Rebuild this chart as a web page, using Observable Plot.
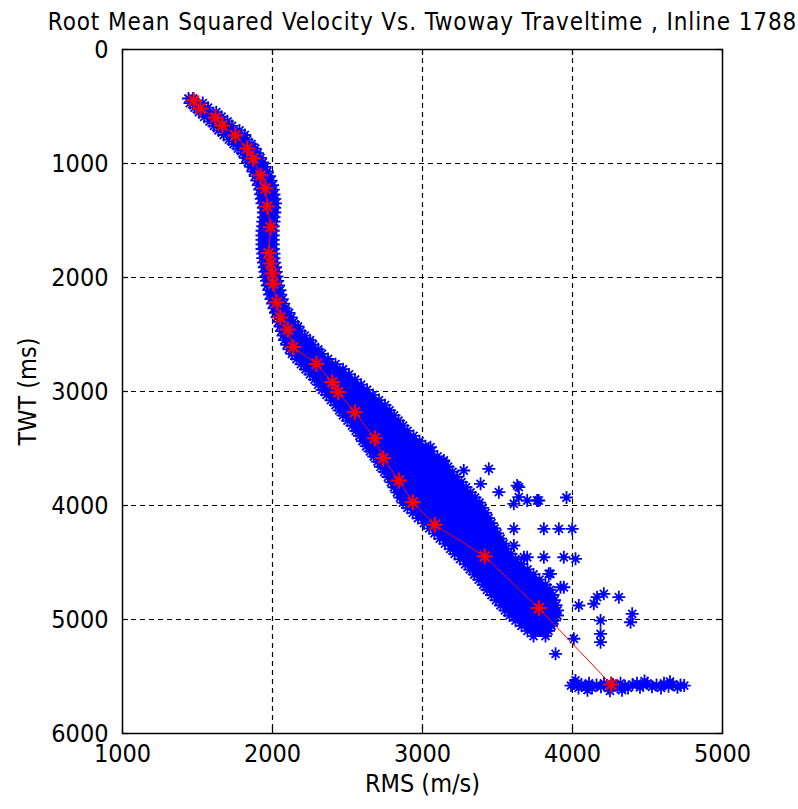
<!DOCTYPE html>
<html><head><meta charset="utf-8">
<script src="https://cdn.jsdelivr.net/npm/d3@7"></script>
<script src="https://cdn.jsdelivr.net/npm/@observablehq/plot@0.6"></script>
<style>body{margin:0;background:#fff;}</style>
</head><body><div id="chart"></div><script>
const titleText = "Root Mean Squared Velocity Vs. Twoway Traveltime , Inline 1788";
const xLabel = "RMS (m/s)";
const yLabel = "TWT (ms)";
const xTicks = [1000, 2000, 3000, 4000, 5000];
const yTicks = [0, 1000, 2000, 3000, 4000, 5000, 6000];
const xGrid = [2000, 3000, 4000];
const yGrid = [1000, 2000, 3000, 4000, 5000];

// Dense blue cloud: left and right envelope of the picks, row by row
const bandTWT = [430,470,510,550,590,630,670,710,750,790,830,870,910,950,990,1030,1070,1110,1150,1190,1230,1270,1310,1350,1390,1430,1470,1510,1550,1590,1630,1670,1710,1750,1790,1830,1870,1910,1950,1990,2030,2070,2110,2150,2190,2230,2270,2310,2350,2390,2430,2470,2510,2550,2590,2630,
 2670,2715,2760,2805,2850,2895,2940,2985,3030,3075,3120,3165,3210,3255,3300,3345,3390,3435,3480,3525,3570,3615,3660,3705,3750,3795,3840,3885,3930,3975,4020,4065,4110,4155,4200,4245,4290,4335,4380,4425,4470,4515,4560,4605,4650,4695,4740,4785,4830,4875,4920,4965,5010,5055,5100,5145];
const bandLeft = [1440,1450,1480,1510,1545,1580,1610,1640,1675,1710,1740,1770,1800,1820,1835,1855,1870,1885,1895,1905,1915,1920,1925,1930,1940,1940,1940,1935,1935,1930,1930,1930,1930,1930,1935,1935,1940,1945,1950,1955,1960,1965,1975,1980,1990,2000,2010,2020,2030,2040,2050,2060,2070,2080,2095,2110,
 2130,2160,2190,2220,2250,2280,2305,2330,2360,2390,2420,2445,2470,2500,2530,2555,2580,2600,2625,2650,2675,2700,2720,2745,2770,2790,2810,2830,2850,2870,2900,2935,2970,3010,3045,3080,3115,3150,3185,3215,3250,3285,3315,3345,3375,3405,3430,3460,3490,3520,3550,3580,3620,3660,3700,3740];
const bandRight = [1470,1535,1570,1625,1660,1700,1730,1780,1815,1830,1860,1885,1900,1920,1935,1950,1965,1980,1990,2000,2005,2010,2015,2020,2015,2015,2010,2010,2005,2005,2005,2005,2005,2005,2010,2010,2015,2020,2025,2030,2035,2040,2050,2055,2065,2075,2085,2110,2125,2140,2170,2185,2215,2250,2270,2305,
 2330,2370,2420,2470,2510,2550,2590,2630,2670,2710,2750,2780,2810,2840,2870,2900,2940,2980,3020,3060,3100,3140,3170,3200,3230,3260,3290,3320,3350,3380,3400,3420,3440,3460,3480,3500,3520,3540,3560,3590,3620,3660,3700,3740,3780,3820,3850,3870,3880,3890,3900,3900,3880,3860,3840,3820];

// Scattered blue picks right of the band
const outlierRMS = [3053,3142,3275,3442,3387,3509,3631,3642,3764,3698,3609,3642,3775,3960,3809,3909,3998,3609,3453,3809,3942,4020,3609,3698,3609,3676,3853,3942,3842,3920,4042,4142,4209,4309,4398,4387,4187,4187,4187,4009,3887,3631,3787,3853,4164];
const outlierTWT = [3488,3605,3693,3678,3810,3883,3825,3927,3956,3956,3985,3839,3956,3930,4205,4205,4205,4205,4248,4454,4454,4468,4351,4454,4541,4454,4599,4717,4599,4717,4877,4862,4775,4804,4950,5024,5009,5126,5199,5169,5301,4950,5097,5038,4804];

// Cluster at the bottom of the section
const clusterRMS = [3990,4010,4040,4060,4090,4110,4130,4160,4190,4210,4240,4270,4300,4320,4350,4370,4400,4430,4450,4470,4500,4530,4560,4590,4610,4640,4670,4700,4720,4745,4100,4250,4480,4650,4020,4330];
const clusterTWT = [5580,5560,5600,5570,5590,5560,5600,5575,5590,5560,5600,5570,5590,5560,5585,5600,5570,5560,5595,5575,5560,5590,5575,5600,5560,5585,5570,5595,5575,5580,5620,5625,5540,5545,5535,5620];

// Red picked velocity function
const redRMS = [1475,1520,1620,1665,1753,1831,1871,1920,1953,1965,1987,1975,1987,1998,2005,2027,2053,2102,2138,2293,2398,2438,2549,2682,2738,2842,2935,3082,3415,3775,4258];
const redTWT = [447,518,597,667,754,868,956,1105,1219,1377,1559,1787,1877,1965,2053,2217,2351,2456,2611,2757,2918,3006,3182,3410,3585,3781,3971,4169,4447,4901,5570];

const band = bandTWT.map((t, i) => ({t, L: bandLeft[i], R: bandRight[i]}));
const outliers = outlierRMS.map((v, i) => ({v, t: outlierTWT[i]}));
const cluster = clusterRMS.map((v, i) => ({v, t: clusterTWT[i]}));
const red = redRMS.map((v, i) => ({v, t: redTWT[i]}));

const star = {
  draw(ctx, size) {
    const r = Math.sqrt(size / Math.PI);
    const d = r * 0.62;
    ctx.moveTo(-r, 0); ctx.lineTo(r, 0);
    ctx.moveTo(0, -r); ctx.lineTo(0, r);
    ctx.moveTo(-d, -d); ctx.lineTo(d, d);
    ctx.moveTo(-d, d); ctx.lineTo(d, -d);
  }
};

const FONT = "'Liberation Sans Narrow', 'Arial Narrow', 'DejaVu Sans Condensed', sans-serif";
const W = 798, H = 809, ML = 122, MR = 76, MT = 49, MB = 76;
const innerW = W - ML - MR, innerH = H - MT - MB;
const BLUE = "#0000ff", RED = "#ff0000";
const blueOpts = {symbol: star, r: 6.5, stroke: BLUE, strokeWidth: 1.8, fill: "none"};

const chart = Plot.plot({
  width: W, height: H,
  marginLeft: ML, marginRight: MR, marginTop: MT, marginBottom: MB,
  style: {fontFamily: FONT, fontSize: "25px", color: "#000", background: "#fff"},
  x: {domain: [1000, 5000], label: null},
  y: {domain: [0, 6000], reverse: true, label: null},
  marks: [
    Plot.gridX(xGrid, {stroke: "#000", strokeOpacity: 1, strokeWidth: 1.2, strokeDasharray: "5,4"}),
    Plot.gridY(yGrid, {stroke: "#000", strokeOpacity: 1, strokeWidth: 1.2, strokeDasharray: "5,4"}),
    Plot.areaX(band, {y: "t", x1: "L", x2: "R", fill: BLUE, curve: "linear"}),
    Plot.dot(band, {x: "L", y: "t", ...blueOpts}),
    Plot.dot(band, {x: "R", y: "t", ...blueOpts}),
    Plot.dot(outliers, {x: "v", y: "t", ...blueOpts}),
    Plot.dot(cluster, {x: "v", y: "t", ...blueOpts}),
    Plot.line(red, {x: "v", y: "t", stroke: RED, strokeWidth: 1}),
    Plot.dot(red, {x: "v", y: "t", symbol: star, r: 8, stroke: RED, strokeWidth: 2.2, fill: "none"}),
    Plot.tickX(xTicks, {x: d => d, insetTop: innerH - 6, stroke: "#000", strokeWidth: 1.2}),
    Plot.tickX(xTicks, {x: d => d, insetBottom: innerH - 6, stroke: "#000", strokeWidth: 1.2}),
    Plot.tickY(yTicks, {y: d => d, insetRight: innerW - 6, stroke: "#000", strokeWidth: 1.2}),
    Plot.tickY(yTicks, {y: d => d, insetLeft: innerW - 6, stroke: "#000", strokeWidth: 1.2}),
    Plot.frame({stroke: "#000", strokeWidth: 1.5}),
    Plot.axisX(xTicks, {tickSize: 0, tickPadding: 11, tickFormat: d => String(d), label: null, fill: "#000"}),
    Plot.axisY(yTicks, {tickSize: 0, tickPadding: 14, tickFormat: d => String(d), label: null, fill: "#000"}),
    Plot.text([titleText], {text: d => d, frameAnchor: "top", dy: -37, fontSize: 24, fill: "#000"}),
    Plot.text([xLabel], {text: d => d, frameAnchor: "bottom", dy: 58, fontSize: 25, fill: "#000"}),
    Plot.text([yLabel], {text: d => d, frameAnchor: "left", dx: -95, rotate: -90, textAnchor: "middle", fontSize: 25, fill: "#000"})
  ]
});
d3.select(chart).selectAll("text")
  .filter(function() { return this.textContent === titleText; })
  .attr("letter-spacing", "0.9px");
document.getElementById("chart").appendChild(chart);
</script></body></html>
